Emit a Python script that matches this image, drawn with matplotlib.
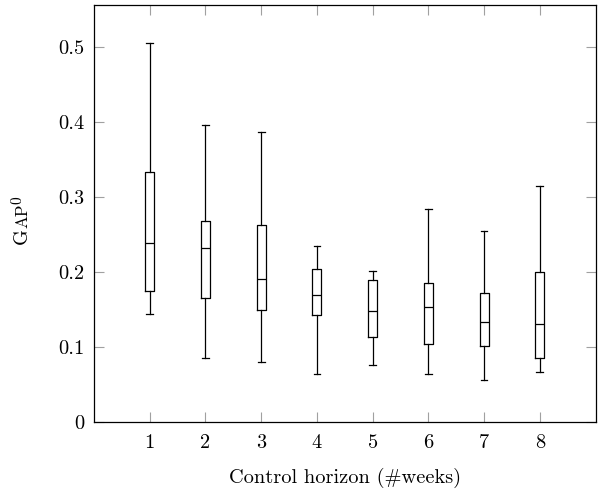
import numpy as np
import matplotlib.pyplot as plt

plt.rcParams['font.family'] = 'cmr10'
plt.rcParams['axes.formatter.use_mathtext'] = True

# box statistics
horizon = [1, 2, 3, 4, 5, 6, 7, 8]
whislo = [0.144, 0.086, 0.080, 0.064, 0.076, 0.064, 0.056, 0.067]
q1 = [0.175, 0.165, 0.150, 0.143, 0.113, 0.104, 0.101, 0.085]
med = [0.239, 0.232, 0.191, 0.169, 0.148, 0.154, 0.133, 0.131]
q3 = [0.333, 0.268, 0.263, 0.204, 0.190, 0.186, 0.172, 0.200]
whishi = [0.505, 0.396, 0.386, 0.235, 0.201, 0.284, 0.255, 0.314]
yticks = [0, 0.1, 0.2, 0.3, 0.4, 0.5]
ytick_labels = ['0', '0.1', '0.2', '0.3', '0.4', '0.5']

stats = []
for i in range(len(horizon)):
    stats.append({'whislo': whislo[i], 'q1': q1[i], 'med': med[i],
                  'q3': q3[i], 'whishi': whishi[i], 'fliers': []})

fig = plt.figure(figsize=(5.98, 4.98), dpi=100)
ax = fig.add_axes([94/598, 1 - 422/498, 501.5/598, 417/498])

lp = dict(color='black', linewidth=0.9)
ax.bxp(stats, positions=horizon, widths=0.16, capwidths=0.12,
       showfliers=False, boxprops=lp, whiskerprops=lp, capprops=lp,
       medianprops=lp)

ax.set_xlim(0, 9)
ax.set_ylim(0, 0.556)
ax.set_xticks(horizon)
ax.set_xticklabels([str(h) for h in horizon])
ax.set_yticks(yticks)
ax.set_yticklabels(ytick_labels)
ax.tick_params(direction='in', length=7, width=0.8, color='#a0a0a0',
               top=True, right=True, labelsize=14.7)
ax.tick_params(axis='x', pad=9)
ax.tick_params(axis='y', pad=7)
for s in ax.spines.values():
    s.set_linewidth(0.9)
    s.set_color('black')

ax.set_xlabel('Control horizon (#weeks)', fontsize=14.7, labelpad=11)

# y label: small caps GAP with superscript 0
def px(x, y):
    return x / 598, 1 - y / 498

fig.text(*px(27, 244), 'G', fontsize=14.7, rotation=90,
         rotation_mode='anchor', ha='left', va='baseline')
fig.text(*px(27, 228), 'AP', fontsize=12.3, rotation=90,
         rotation_mode='anchor', ha='left', va='baseline')
fig.text(*px(21, 204), '0', fontsize=11, rotation=90,
         rotation_mode='anchor', ha='left', va='baseline')

fig.savefig('out.png', dpi=100)
